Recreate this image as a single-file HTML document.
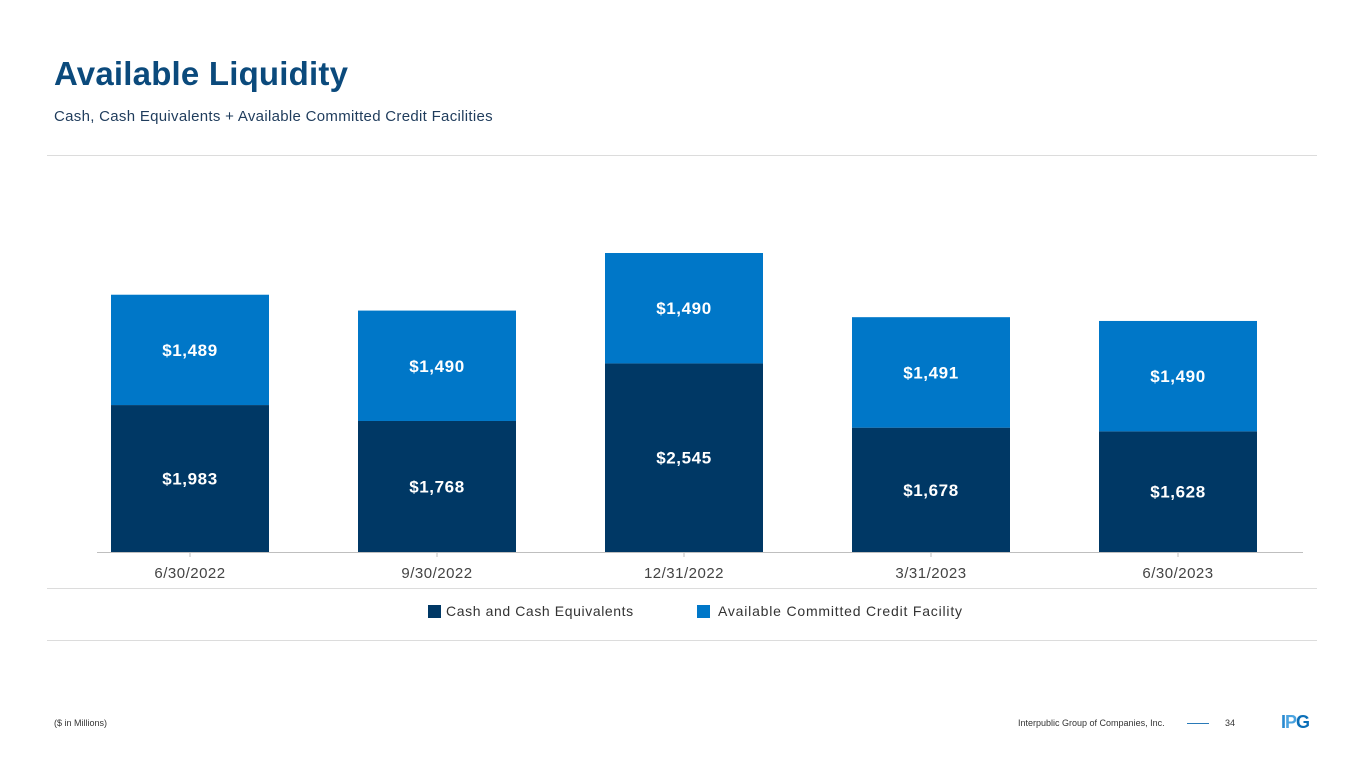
<!DOCTYPE html>
<html><head><meta charset="utf-8"><style>
body{margin:0;width:1365px;height:768px;background:#fff;font-family:"Liberation Sans",sans-serif;position:relative;overflow:hidden}
.a{position:absolute}
</style></head><body>
<div class="a" style="left:54px;top:55px;font-size:33px;font-weight:bold;color:#0b4a7c;letter-spacing:0.2px">Available Liquidity</div>
<div class="a" style="left:54px;top:108px;font-size:15px;color:#1f3c5c;letter-spacing:0.3px">Cash, Cash Equivalents + Available Committed Credit Facilities</div>
<div class="a" style="left:47px;top:155px;width:1270px;height:1px;background:#dcdcdc"></div>
<div class="a" style="left:47px;top:588px;width:1270px;height:1px;background:#dcdcdc"></div>
<div class="a" style="left:47px;top:640px;width:1270px;height:1px;background:#dcdcdc"></div>
<svg class="a" style="left:0;top:0" width="1365" height="600" id="chart"></svg>
<div class="a" style="left:428px;top:603px;font-size:14px;color:#333;letter-spacing:0.6px"><span style="display:inline-block;width:13px;height:13px;background:#003865;vertical-align:-2px;margin-right:5px"></span>Cash and Cash Equivalents</div>
<div class="a" style="left:697px;top:603px;font-size:14px;color:#333;letter-spacing:0.8px"><span style="display:inline-block;width:13px;height:13px;background:#0077c8;vertical-align:-2px;margin-right:8px"></span>Available Committed Credit Facility</div>
<div class="a" style="left:54px;top:718px;font-size:9px;color:#333">($ in Millions)</div>
<div class="a" style="left:1018px;top:718px;font-size:9px;color:#333">Interpublic Group of Companies, Inc.</div>
<div class="a" style="left:1187px;top:723px;width:22px;height:1px;background:#2a7ab8"></div>
<div class="a" style="left:1225px;top:718px;font-size:9px;color:#333">34</div>
<div class="a" style="left:1281px;top:712px;font-size:18px;font-weight:bold;color:#2a8ad0;letter-spacing:-1px">I<span style="color:#4aa3e0">P</span><span style="color:#0b6fb8">G</span></div>
<script>
const categories=["6/30/2022","9/30/2022","12/31/2022","3/31/2023","6/30/2023"];
const cash=[1983,1768,2545,1678,1628];
const credit=[1489,1490,1490,1491,1490];
const svg=document.getElementById('chart');
const NS='http://www.w3.org/2000/svg';
const base=552,scale=0.0741,x0=190,step=247,bw=158;
const yv=v=>base-v*scale;
const fmt=v=>'$'+v.toLocaleString('en-US');
function mk(t,a){const e=document.createElementNS(NS,t);for(const k in a)e.setAttribute(k,a[k]);svg.appendChild(e);return e;}
categories.forEach((c,i)=>{
 const cx=x0+i*step;
 const r1=mk('rect',{x:cx-bw/2,y:yv(cash[i]),width:bw,height:base-yv(cash[i]),fill:'#003865'});
 
 
 const r2=mk('rect',{x:cx-bw/2,y:yv(cash[i]+credit[i]),width:bw,height:credit[i]*scale,fill:'#0077c8'});
 
 
 const t1=mk('text',{x:cx,y:(yv(cash[i])+base)/2+6,'text-anchor':'middle',fill:'#fff','font-size':17,'font-weight':'bold','letter-spacing':0.6});
 t1.textContent=fmt(cash[i]);
 
 
 const t2=mk('text',{x:cx,y:(yv(cash[i])+yv(cash[i]+credit[i]))/2+6,'text-anchor':'middle',fill:'#fff','font-size':17,'font-weight':'bold','letter-spacing':0.6});
 t2.textContent=fmt(credit[i]);
 
 
 const tk=mk('line',{x1:cx,x2:cx,y1:base,y2:base+5,stroke:'#bfbfbf'});
 
 
 const l=mk('text',{x:cx,y:578,'text-anchor':'middle',fill:'#444','font-size':15,'letter-spacing':0.5});
 l.textContent=c;
 
 
});
const ax=mk('line',{x1:97,x2:1303,y1:base+0.5,y2:base+0.5,stroke:'#bfbfbf'});


</script>
</body></html>
